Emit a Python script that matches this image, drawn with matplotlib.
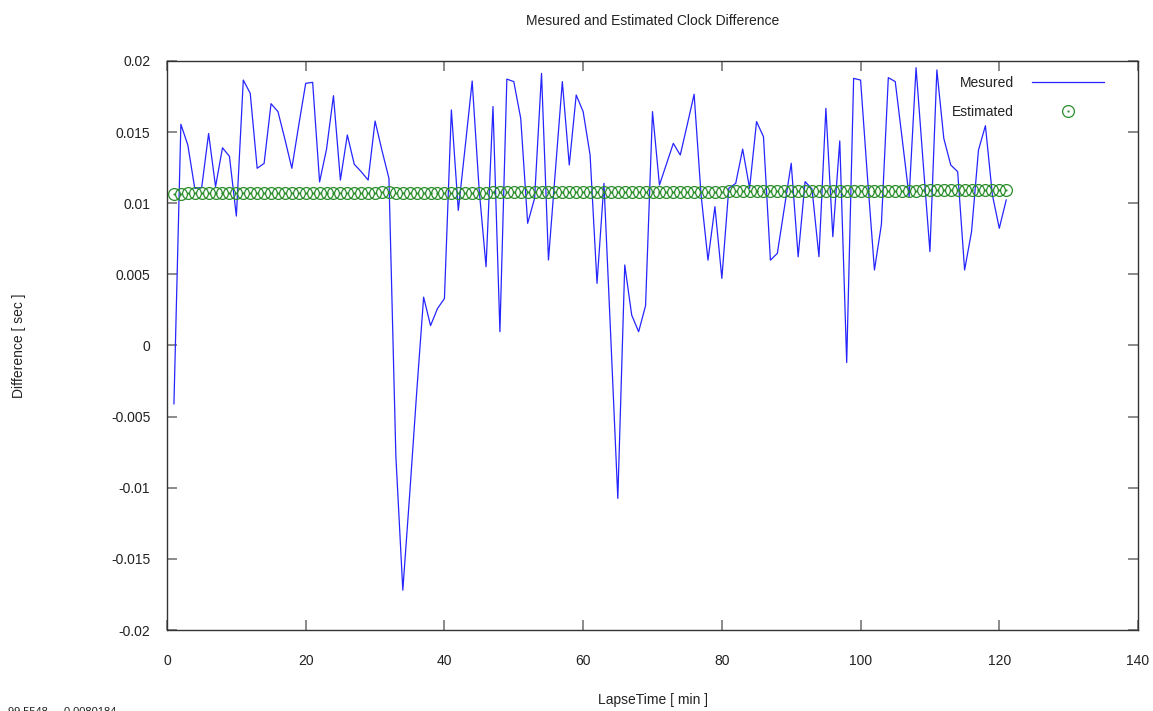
import matplotlib
matplotlib.use("Agg")
import matplotlib.pyplot as plt
from matplotlib.legend_handler import HandlerTuple

plt.rcParams['font.family'] = ['Liberation Sans', 'DejaVu Sans']

# ---- data ----
lapse_time = list(range(1, 122))

measured = [
    -0.0041, 0.01555, 0.0141, 0.01105, 0.0111, 0.0149, 0.01117, 0.0139, 0.0133, 0.0091,
    0.01866, 0.01773, 0.01246, 0.0128, 0.0170, 0.01644, 0.0145, 0.01246, 0.0155, 0.01843,
    0.0185, 0.0115, 0.0138, 0.01756, 0.01163, 0.0148, 0.01274, 0.01222, 0.01163, 0.01578,
    0.0137, 0.01175, -0.0078, -0.0172, -0.0104, -0.0033, 0.0034, 0.0014, 0.0026, 0.0033,
    0.01656, 0.0095, 0.0140, 0.01859, 0.0110, 0.00554, 0.0168, 0.00097, 0.01873, 0.01855,
    0.01597, 0.00859, 0.01035, 0.01913, 0.00601, 0.0123, 0.01855, 0.01269, 0.01761, 0.01644,
    0.0134, 0.00437, 0.0114, 0.0004, -0.01075, 0.00566, 0.00214, 0.00097, 0.0028, 0.01644,
    0.01128, 0.01274, 0.01421, 0.01339, 0.0155, 0.01766, 0.0106, 0.0060, 0.00976, 0.00472,
    0.01105, 0.0114, 0.01381, 0.01105, 0.01574, 0.01468, 0.0060, 0.00648, 0.00964, 0.01281,
    0.00624, 0.01152, 0.0110, 0.00624, 0.01667, 0.00765, 0.01438, -0.0012, 0.01878, 0.01866,
    0.0118, 0.00531, 0.0085, 0.01883, 0.01855, 0.01452, 0.01046, 0.01953, 0.0130, 0.0066,
    0.01937, 0.01456, 0.01269, 0.01222, 0.00531, 0.0080, 0.01374, 0.01545, 0.0106, 0.00824,
    0.01023,
]

estimated = [
    0.01068, 0.01068, 0.01069, 0.01069, 0.01069, 0.01069, 0.01070, 0.01070, 0.01070, 0.01070,
    0.01071, 0.01071, 0.01071, 0.01071, 0.01072, 0.01072, 0.01072, 0.01072, 0.01073, 0.01073,
    0.01073, 0.01073, 0.01074, 0.01074, 0.01074, 0.01074, 0.01075, 0.01075, 0.01075, 0.01075,
    0.01076, 0.01076, 0.01075, 0.01074, 0.01073, 0.01073, 0.01073, 0.01073, 0.01073, 0.01073,
    0.01074, 0.01074, 0.01075, 0.01075, 0.01075, 0.01075, 0.01076, 0.01076, 0.01076, 0.01077,
    0.01077, 0.01077, 0.01078, 0.01078, 0.01078, 0.01079, 0.01079, 0.01079, 0.01080, 0.01080,
    0.01080, 0.01080, 0.01080, 0.01080, 0.01079, 0.01079, 0.01079, 0.01079, 0.01079, 0.01080,
    0.01080, 0.01080, 0.01081, 0.01081, 0.01081, 0.01082, 0.01082, 0.01082, 0.01082, 0.01082,
    0.01083, 0.01083, 0.01083, 0.01083, 0.01084, 0.01084, 0.01084, 0.01084, 0.01085, 0.01085,
    0.01085, 0.01085, 0.01086, 0.01086, 0.01086, 0.01086, 0.01087, 0.01087, 0.01087, 0.01087,
    0.01088, 0.01088, 0.01088, 0.01088, 0.01089, 0.01089, 0.01089, 0.01089, 0.01090, 0.01090,
    0.01090, 0.01090, 0.01091, 0.01091, 0.01091, 0.01091, 0.01092, 0.01092, 0.01092, 0.01092,
    0.01093,
]

x_ticks = [0, 20, 40, 60, 80, 100, 120, 140]
y_ticks = [-0.02, -0.015, -0.01, -0.005, 0, 0.005, 0.01, 0.015, 0.02]
y_tick_labels = ["-0.02", "-0.015", "-0.01", "-0.005", "0", "0.005", "0.01", "0.015", "0.02"]

title = "Mesured and Estimated Clock Difference"
x_label = "LapseTime [ min ]"
y_label = "Difference [ sec ]"
cursor_text = "99.5548,   -0.0080184"

# ---- figure ----
fig = plt.figure(figsize=(11.53, 7.11), dpi=100)
ax = fig.add_axes([167 / 1153, 1 - 630 / 711, (1138 - 167) / 1153, (630 - 61) / 711])

line_m, = ax.plot(lapse_time, measured, color='#2525ff', lw=0.9, label='Mesured', zorder=2)
circ_e, = ax.plot(lapse_time, estimated, linestyle='none', marker='o', markersize=8.5,
                  markerfacecolor='none', markeredgecolor='#2a8c2a', markeredgewidth=0.9,
                  zorder=3)
dot_e, = ax.plot(lapse_time, estimated, linestyle='none', marker='.', markersize=1.2,
                 color='#2a8c2a', zorder=3)

ax.set_xlim(0, 140)
ax.set_ylim(-0.02, 0.02)
ax.set_xticks(x_ticks)
ax.set_xticklabels([str(t) for t in x_ticks])
ax.set_yticks(y_ticks)
ax.set_yticklabels(y_tick_labels)

ax.tick_params(axis='both', which='major', direction='in', length=7, width=1.2,
               color='#777777', labelsize=10, labelcolor='#222222',
               top=True, right=True)
ax.tick_params(axis='y', pad=12)
ax.tick_params(axis='x', pad=17)
for s in ax.spines.values():
    s.set_color('#333333')
    s.set_linewidth(1.0)

ax.set_xlabel(x_label, fontsize=10, color='#222222')
ax.set_ylabel(y_label, fontsize=10, color='#222222')
ax.xaxis.set_label_coords(0.5, (630 - 693) / 569)
ax.yaxis.set_label_coords((26 - 167) / 971, 0.5)

fig.text(652.5 / 1153, 1 - 21 / 711, title, ha='center', va='center', fontsize=10,
         color='#222222')

leg = ax.legend([line_m, (circ_e, dot_e)], ['Mesured', 'Estimated'],
                handler_map={tuple: HandlerTuple(ndivide=1)},
                loc='upper right', bbox_to_anchor=(1 - 34 / 971, 1 - 15 / 569),
                frameon=False, markerfirst=False, fontsize=10,
                handlelength=5.2, handletextpad=1.3, labelspacing=1.05,
                borderaxespad=0.0, borderpad=0.0)
for t in leg.get_texts():
    t.set_color('#222222')

fig.text(8 / 1153, 0.0, cursor_text, ha='left', va='center', fontsize=8, color='#222222')

fig.savefig('out.png', dpi=100)
